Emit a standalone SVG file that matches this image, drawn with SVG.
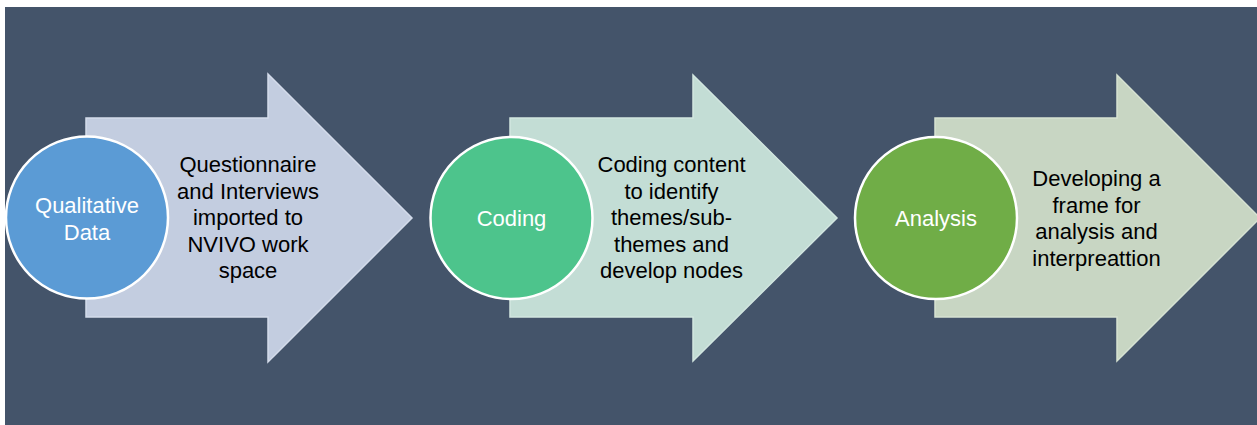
<svg xmlns="http://www.w3.org/2000/svg" width="1257" height="425" viewBox="0 0 1257 425">
  <style>
    .arrow { stroke-width: 1.5; stroke-linejoin: miter; }
    .circ { stroke: #FFFFFF; stroke-width: 2.5; }
    .ct { font-family: "Liberation Sans", Arial, sans-serif; font-size: 22px; fill: #FFFFFF; text-anchor: middle; }
    .at { font-family: "Liberation Sans", Arial, sans-serif; font-size: 22px; fill: #000000; text-anchor: middle; }
  </style>
  <rect x="0" y="0" width="1257" height="425" fill="#FFFFFF"/>
  <rect x="5" y="7" width="1252" height="418" fill="#44546A"/>

  <g id="step1">
    <path class="arrow" d="M86,118 L268,118 L268,74 L412,218 L268,362 L268,317 L86,317 Z" fill="#C3CDE0" stroke="#D3DBEA"/>
    <circle class="circ" cx="87" cy="217.5" r="81" fill="#5B9BD5"/>
    <text class="ct"><tspan x="87" y="213">Qualitative</tspan><tspan x="87" y="239.5">Data</tspan></text>
    <text class="at"><tspan x="248" y="172">Questionnaire</tspan><tspan x="248" y="198.5">and Interviews</tspan><tspan x="248" y="225">imported to</tspan><tspan x="248" y="251.5">NVIVO work</tspan><tspan x="248" y="278">space</tspan></text>
  </g>

  <g id="step2">
    <path class="arrow" d="M510,118 L693,118 L693,75 L837,218 L693,361 L693,317 L510,317 Z" fill="#C3DDD5" stroke="#D2E6E0"/>
    <circle class="circ" cx="511.5" cy="218" r="81" fill="#4DC48C"/>
    <text class="ct"><tspan x="511.5" y="225.5">Coding</tspan></text>
    <text class="at"><tspan x="671.5" y="172">Coding content</tspan><tspan x="671.5" y="198.5">to identify</tspan><tspan x="671.5" y="225">themes/sub-</tspan><tspan x="671.5" y="251.5">themes and</tspan><tspan x="671.5" y="278">develop nodes</tspan></text>
  </g>

  <g id="step3">
    <path class="arrow" d="M935,118 L1117,118 L1117,75 L1260,218 L1117,361 L1117,317 L935,317 Z" fill="#C8D6C3" stroke="#D6E2D2"/>
    <circle class="circ" cx="936" cy="218" r="81" fill="#70AD47"/>
    <text class="ct"><tspan x="936" y="225.5">Analysis</tspan></text>
    <text class="at"><tspan x="1096.5" y="186">Developing a</tspan><tspan x="1096.5" y="212.5">frame for</tspan><tspan x="1096.5" y="239">analysis and</tspan><tspan x="1096.5" y="265.5">interpreattion</tspan></text>
  </g>

  <g id="connectors"/>
</svg>
